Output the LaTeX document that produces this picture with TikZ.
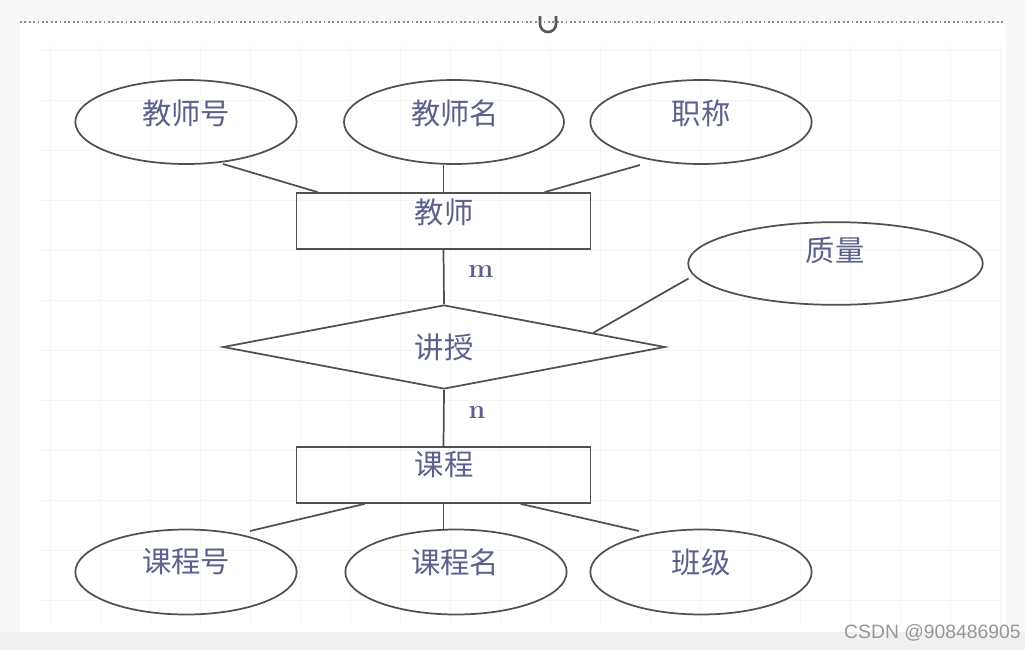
\documentclass[tikz,border=0pt]{standalone}
\usepackage{fontspec}
\newfontfamily\cjk{Noto Sans CJK SC}
\setsansfont{Liberation Sans}
\usetikzlibrary{shapes.geometric,calc}
\definecolor{linegray}{RGB}{80,80,80}
\definecolor{txtblue}{RGB}{92,96,140}
\definecolor{bggray}{RGB}{240,240,240}
\definecolor{outgray}{RGB}{248,248,248}
\definecolor{wmgray}{RGB}{150,150,150}
\definecolor{gridgray}{RGB}{245,245,245}
\begin{document}
\begin{tikzpicture}[x=0.75pt,y=-0.75pt,
  line/.style={draw=linegray,line width=1.3pt},
  attr/.style={ellipse,line,minimum width=166pt,minimum height=63pt,inner sep=0pt},
  entity/.style={rectangle,line,minimum width=220.5pt,minimum height=42pt,inner sep=0pt},
  relation/.style={diamond,line,minimum width=331.5pt,minimum height=63pt,inner sep=0pt},
  cjktext/.style={font=\cjk\fontsize{22}{22}\selectfont,text=txtblue,inner sep=0pt},
  cardtext/.style={font=\bfseries\fontsize{20}{20}\selectfont,text=txtblue,inner sep=0pt},
  conn/.style={line}]
% page background
\useasboundingbox (0,0) rectangle (1025,650);
\fill[outgray] (0,0) rectangle (1025,650);
\fill[bggray] (0,632) rectangle (1025,650);
\fill[white] (20,22) rectangle (1006,632);
\draw[gridgray,line width=0.6pt] (40,45) grid[step=37.5pt] (1000,625);
\draw[black!45,dotted,line width=1.3pt] (20,22) -- (1005,22);
\draw[black!65,line width=2pt] (556,16) -- (556,24) arc[start angle=0,end angle=180,radius=8] -- (540,16);

% entities
\node[entity] (teacher) at (443.5,221) {};
\node[cjktext] (teacherl) at (444,212) {教师};
\node[entity] (course) at (443.5,475) {};
\node[cjktext] (coursel) at (444,465) {课程};

% relationship
\node[relation] (rel) at (444,347) {};
\node[cjktext] (rell) at (444,347) {讲授};

% attributes
\node[attr] (t1) at (186,122) {};
\node[cjktext] (t1l) at (186,113) {教师号};
\node[attr,minimum width=165pt] (t2) at (454,122) {};
\node[cjktext] (t2l) at (455,113) {教师名};
\node[attr] (t3) at (701,122) {};
\node[cjktext] (t3l) at (701,113) {职称};
\node[attr,minimum width=221pt,minimum height=62pt] (q) at (835.5,263.5) {};
\node[cjktext] (ql) at (835,250) {质量};
\node[attr,minimum height=63.75pt] (c1) at (186,572) {};
\node[cjktext] (c1l) at (186,562) {课程号};
\node[attr,minimum height=63.75pt] (c2) at (456,572) {};
\node[cjktext] (c2l) at (455,562) {课程名};
\node[attr,minimum height=63.75pt] (c3) at (701,572) {};
\node[cjktext] (c3l) at (701,562) {班级};

% cardinalities
\node[cardtext] (m) at (481,271) {m};
\node[cardtext] (n) at (477,412) {n};

% connectors
\draw[conn] ($(t1.center)+(37,42)$) -- ($(teacher.north west)+(22,0)$);
\draw[conn] (teacher.north) -- (teacher.north |- t2.south);
\draw[conn] ($(t3.center)+(-61,43)$) -- ($(teacher.north west)+(249,0)$);
\draw[conn] (teacher.south) -- (rel.north);
\draw[conn] ($(rel.center)+(149,-14)$) -- ($(q.center)+(-147,15)$);
\draw[conn] (rel.south) -- (course.north);
\draw[conn] ($(course.south west)+(69,0)$) -- ($(c1.center)+(64,-41)$);
\draw[conn] (course.south) -- (course.south |- c2.north);
\draw[conn] ($(course.south west)+(225,0)$) -- ($(c3.center)+(-62,-41)$);

% watermark
\node[anchor=east,text=wmgray,font=\sffamily\fontsize{14.5}{14.5}\selectfont,inner sep=0pt] (wm) at (1021,633) {CSDN @908486905};
\end{tikzpicture}
\end{document}
